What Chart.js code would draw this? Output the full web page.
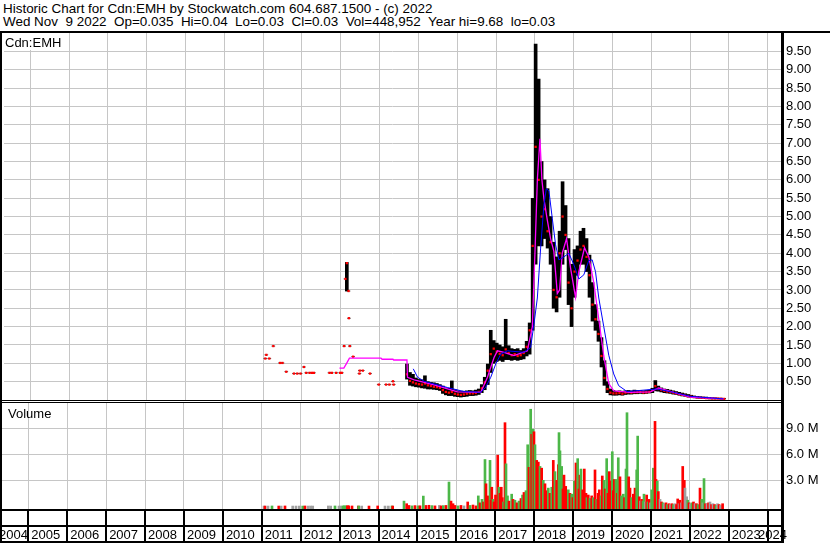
<!DOCTYPE html>
<html>
<head>
<meta charset="utf-8">
<script src="https://cdn.jsdelivr.net/npm/chart.js@4.4.1/dist/chart.umd.min.js"></script>
<style>
  body { margin: 0; background: #fff; width: 830px; height: 543px; overflow: hidden; position: relative; font-family: "Liberation Sans", Arial, sans-serif; }
  .t { position: absolute; left: 3px; font-size: 13.45px; line-height: 13px; white-space: pre; color: #000; }
  canvas { position: absolute; left: 0; }
</style>
</head>
<body>
<div class="t" style="top:2px">Historic Chart for Cdn:EMH by Stockwatch.com 604.687.1500 - (c) 2022</div>
<div class="t" style="top:15px">Wed Nov  9 2022  Op=0.035  Hi=0.04  Lo=0.03  Cl=0.03  Vol=448,952  Year hi=9.68  lo=0.03</div>
<canvas id="price" width="830" height="376" style="top:28px"></canvas>
<canvas id="vol" width="830" height="143" style="top:400px"></canvas>
<script>
// axis ticks
const yearTicks = [2004, 2005, 2006, 2007, 2008, 2009, 2010, 2011, 2012, 2013, 2014, 2015, 2016, 2017, 2018, 2019, 2020, 2021, 2022, 2023, 2024];
const yearLabels = ['2004', '2005', '2006', '2007', '2008', '2009', '2010', '2011', '2012', '2013', '2014', '2015', '2016', '2017', '2018', '2019', '2020', '2021', '2022', '2023', '2024'];
const priceTicks = [0.5, 1, 1.5, 2, 2.5, 3, 3.5, 4, 4.5, 5, 5.5, 6, 6.5, 7, 7.5, 8, 8.5, 9, 9.5];
const volTicks = [3, 6, 9]; // millions

// daily-ish price bars (decimal year, high, low, close)
const priceDates = [
  2011.056, 2011.082, 2011.159, 2011.262, 2011.435, 2011.497, 2011.596, 2011.794, 2011.879, 2011.964,
  2012.051, 2012.110, 2012.196, 2012.257, 2012.308, 2012.709, 2012.770, 2012.881, 2012.984, 2013.027,
  2013.086, 2013.120, 2013.156, 2013.200, 2013.210, 2013.233, 2013.318, 2013.480, 2013.490, 2013.567,
  2013.754, 2013.978, 2014.166, 2014.252, 2014.345, 2014.363,
  2014.705, 2014.782, 2014.859, 2014.936, 2015.013, 2015.091, 2015.168, 2015.245, 2015.322, 2015.399,
  2015.476, 2015.553, 2015.630, 2015.707, 2015.784, 2015.861, 2015.939, 2016.016, 2016.093, 2016.170,
  2016.247, 2016.324, 2016.401, 2016.478, 2016.555, 2016.632, 2016.709, 2016.787, 2016.864, 2016.941,
  2017.018, 2017.095, 2017.172, 2017.249, 2017.326, 2017.403, 2017.480, 2017.557, 2017.635, 2017.712,
  2017.789, 2017.866, 2017.943, 2018.020, 2018.097, 2018.174, 2018.251, 2018.328, 2018.405, 2018.483,
  2018.560, 2018.637, 2018.714, 2018.791, 2018.868, 2018.945, 2019.022, 2019.099, 2019.176, 2019.253,
  2019.331, 2019.408, 2019.485, 2019.562, 2019.639, 2019.716, 2019.793, 2019.870, 2019.947, 2020.024,
  2020.101, 2020.179, 2020.256, 2020.333, 2020.410, 2020.487, 2020.564, 2020.641, 2020.718, 2020.795,
  2020.872, 2020.949, 2021.027, 2021.104, 2021.181, 2021.258, 2021.335, 2021.412, 2021.489, 2021.566,
  2021.643, 2021.720, 2021.797, 2021.875, 2021.952, 2022.029, 2022.106, 2022.183, 2022.260, 2022.337,
  2022.414, 2022.491, 2022.568, 2022.645, 2022.723, 2022.800, 2022.877
];
const priceHigh = [
  1.13, 1.23, 1.13, 1.47, 1.01, 1.01, 0.77, 0.72, 0.72, 0.72,
  0.90, 0.74, 0.74, 0.74, 0.74, 0.74, 0.74, 0.74, 0.74, 0.74,
  1.47, 3.30, 3.75, 2.97, 2.23, 1.47, 1.18, 0.72, 0.80, 0.80,
  0.72, 0.42, 0.42, 0.42, 0.51, 0.42,
  0.98, 0.75, 0.70, 0.60, 0.56, 0.55, 0.66, 0.50, 0.48, 0.47,
  0.45, 0.42, 0.38, 0.33, 0.32, 0.52, 0.28, 0.25, 0.24, 0.24,
  0.25, 0.26, 0.25, 0.27, 0.30, 0.42, 0.62, 0.98, 1.90, 1.62,
  1.55, 1.50, 1.45, 2.20, 1.48, 1.40, 1.38, 1.40, 1.35, 1.40,
  1.60, 2.10, 5.50, 9.70, 8.75, 6.50, 6.00, 5.76, 5.00, 4.30,
  3.90, 4.60, 5.95, 5.30, 4.40, 3.70, 4.10, 4.20, 4.60, 4.68,
  4.40, 3.95, 3.20, 2.60, 2.15, 1.70, 1.07, 0.50, 0.30, 0.26,
  0.24, 0.25, 0.24, 0.25, 0.26, 0.25, 0.27, 0.26, 0.26, 0.25,
  0.26, 0.27, 0.32, 0.53, 0.38, 0.33, 0.30, 0.29, 0.27, 0.25,
  0.23, 0.21, 0.19, 0.17, 0.15, 0.13, 0.11, 0.10, 0.09, 0.08,
  0.08, 0.07, 0.06, 0.06, 0.05, 0.05, 0.04
];
const priceLow = [
  1.13, 1.23, 1.13, 1.47, 1.01, 1.01, 0.77, 0.72, 0.72, 0.72,
  0.90, 0.74, 0.74, 0.74, 0.74, 0.74, 0.74, 0.74, 0.74, 0.74,
  1.47, 3.30, 2.97, 2.97, 2.23, 1.47, 1.18, 0.72, 0.80, 0.80,
  0.72, 0.42, 0.42, 0.42, 0.51, 0.42,
  0.57, 0.40, 0.38, 0.36, 0.35, 0.33, 0.32, 0.30, 0.30, 0.29,
  0.28, 0.26, 0.18, 0.14, 0.12, 0.12, 0.10, 0.09, 0.08, 0.09,
  0.10, 0.12, 0.12, 0.13, 0.15, 0.20, 0.28, 0.42, 0.75, 1.00,
  1.05, 1.08, 1.05, 1.10, 1.10, 1.08, 1.10, 1.08, 1.10, 1.12,
  1.20, 1.25, 1.90, 3.70, 4.20, 4.20, 4.40, 4.14, 3.70, 2.50,
  2.40, 2.80, 3.70, 4.10, 2.60, 2.00, 2.80, 3.40, 3.70, 3.70,
  3.50, 2.80, 2.15, 1.90, 1.60, 0.90, 0.40, 0.20, 0.14, 0.13,
  0.13, 0.14, 0.13, 0.15, 0.16, 0.16, 0.17, 0.17, 0.18, 0.17,
  0.18, 0.19, 0.20, 0.25, 0.24, 0.22, 0.20, 0.19, 0.18, 0.16,
  0.15, 0.13, 0.11, 0.10, 0.08, 0.07, 0.06, 0.05, 0.05, 0.04,
  0.04, 0.03, 0.03, 0.03, 0.03, 0.02, 0.03
];
const priceClose = [
  1.13, 1.23, 1.13, 1.47, 1.01, 1.01, 0.77, 0.72, 0.72, 0.72,
  0.90, 0.74, 0.74, 0.74, 0.74, 0.74, 0.74, 0.74, 0.74, 0.74,
  1.47, 3.30, 3.73, 2.97, 2.23, 1.47, 1.18, 0.72, 0.80, 0.80,
  0.72, 0.42, 0.42, 0.42, 0.51, 0.42,
  0.70, 0.52, 0.48, 0.45, 0.43, 0.42, 0.45, 0.40, 0.38, 0.36,
  0.35, 0.33, 0.27, 0.22, 0.20, 0.22, 0.17, 0.15, 0.14, 0.15,
  0.17, 0.18, 0.18, 0.19, 0.22, 0.32, 0.48, 0.80, 1.25, 1.40,
  1.32, 1.26, 1.22, 1.38, 1.28, 1.22, 1.25, 1.20, 1.22, 1.28,
  1.45, 1.90, 4.20, 6.90, 6.00, 5.00, 5.20, 4.60, 4.30, 3.00,
  2.80, 4.00, 5.00, 4.50, 3.20, 2.50, 3.50, 3.80, 4.10, 4.20,
  3.90, 3.40, 2.60, 2.20, 1.80, 1.20, 0.60, 0.30, 0.20, 0.18,
  0.18, 0.19, 0.17, 0.20, 0.21, 0.20, 0.21, 0.21, 0.22, 0.20,
  0.21, 0.22, 0.27, 0.38, 0.30, 0.27, 0.25, 0.23, 0.22, 0.20,
  0.18, 0.16, 0.14, 0.12, 0.10, 0.09, 0.08, 0.07, 0.06, 0.06,
  0.05, 0.05, 0.04, 0.04, 0.04, 0.035, 0.03
];

// moving averages as drawn
const fastMaDates = [2012.966, 2013.079, 2013.150, 2013.223, 2014.037, 2014.063, 2014.345, 2014.363, 2014.705, 2014.718,
  2014.893, 2015.150, 2015.450, 2015.751, 2016.008, 2016.607, 2016.779, 2016.949, 2017.036, 2017.205,
  2017.462, 2017.807, 2017.935, 2018.002, 2018.064, 2018.131, 2018.182, 2018.233, 2018.321, 2018.405,
  2018.490, 2018.578, 2018.637, 2018.706, 2018.817, 2018.919, 2019.048, 2019.133, 2019.279, 2019.390,
  2019.518, 2019.647, 2019.775, 2019.904, 2020.032, 2020.461, 2020.975, 2021.189, 2021.574, 2022.003, 2022.859];
const fastMa = [0.87, 0.87, 1.00, 1.14, 1.14, 1.11, 1.11, 1.09, 1.09, 0.62,
  0.55, 0.48, 0.40, 0.30, 0.22, 0.21, 0.62, 1.16, 1.34, 1.30,
  1.21, 1.34, 2.00, 4.00, 6.00, 7.12, 6.00, 5.49, 4.90, 4.40,
  4.05, 2.90, 3.00, 4.00, 4.40, 3.60, 2.80, 3.50, 4.15, 3.90,
  3.20, 2.20, 1.20, 0.45, 0.25, 0.21, 0.22, 0.33, 0.21, 0.08, 0.03];
const slowMaDates = [2014.867, 2014.980, 2015.150, 2015.751, 2016.178, 2016.607, 2016.735, 2016.864, 2016.992, 2017.121,
  2017.293, 2017.719, 2017.891, 2017.976, 2018.064, 2018.149, 2018.233, 2018.295, 2018.362, 2018.449,
  2018.534, 2018.619, 2018.747, 2018.876, 2019.004, 2019.133, 2019.261, 2019.389, 2019.477, 2019.562,
  2019.647, 2019.775, 2019.904, 2020.032, 2020.160, 2020.376, 2021.147, 2021.574, 2022.003, 2022.859];
const slowMa = [0.85, 0.62, 0.51, 0.34, 0.23, 0.21, 0.35, 0.62, 0.98, 1.25,
  1.34, 1.30, 1.43, 2.06, 2.78, 4.14, 5.31, 5.76, 5.70, 4.95,
  4.23, 3.82, 3.90, 4.00, 3.69, 3.30, 3.41, 3.80, 3.82, 3.50,
  2.78, 2.00, 1.22, 0.71, 0.39, 0.23, 0.30, 0.21, 0.10, 0.03];

// volume in millions, u = up (green), d = down (red), f = unchanged (grey)
const volDates = [
  2011.056, 2011.082, 2011.159, 2011.262, 2011.435, 2011.497, 2011.596, 2011.794, 2011.879, 2011.964,
  2012.051, 2012.110, 2012.196, 2012.257, 2012.308, 2012.709, 2012.770, 2012.881, 2012.984, 2013.027,
  2013.086, 2013.120, 2013.156, 2013.200, 2013.210, 2013.233, 2013.318, 2013.480, 2013.490, 2013.567,
  2013.754, 2013.978, 2014.166, 2014.252, 2014.345, 2014.363,
  2014.654, 2014.723, 2014.782, 2014.859, 2014.936, 2015.014, 2015.065, 2015.150, 2015.219, 2015.296,
  2015.373, 2015.450, 2015.561, 2015.605, 2015.664, 2015.733, 2015.810, 2015.862, 2015.913, 2015.964,
  2016.041, 2016.118, 2016.196, 2016.291, 2016.350, 2016.427, 2016.504, 2016.563, 2016.607, 2016.658,
  2016.697, 2016.735, 2016.761, 2016.812, 2016.864, 2016.889, 2016.910, 2016.941, 2016.967, 2017.005,
  2017.062, 2017.095, 2017.121, 2017.154, 2017.180, 2017.211, 2017.249, 2017.275, 2017.313, 2017.352,
  2017.421, 2017.455, 2017.506, 2017.557, 2017.609, 2017.660, 2017.699, 2017.737, 2017.788, 2017.832,
  2017.866, 2017.909, 2017.935, 2017.969, 2017.994, 2018.020, 2018.064, 2018.105, 2018.149, 2018.192,
  2018.233, 2018.277, 2018.315, 2018.362, 2018.405, 2018.449, 2018.490, 2018.534, 2018.578, 2018.619,
  2018.637, 2018.662, 2018.706, 2018.739, 2018.765, 2018.809, 2018.842, 2018.876, 2018.919, 2018.963,
  2018.996, 2019.030, 2019.073, 2019.117, 2019.150, 2019.176, 2019.202, 2019.245, 2019.287, 2019.330,
  2019.356, 2019.389, 2019.433, 2019.477, 2019.518, 2019.562, 2019.605, 2019.639, 2019.672, 2019.716,
  2019.749, 2019.793, 2019.826, 2019.862, 2019.896, 2019.929, 2019.973, 2020.006, 2020.032, 2020.058,
  2020.101, 2020.135, 2020.160, 2020.204, 2020.243, 2020.289, 2020.320, 2020.358, 2020.384, 2020.428,
  2020.461, 2020.500, 2020.546, 2020.590, 2020.633, 2020.659, 2020.700, 2020.731, 2020.762, 2020.795,
  2020.821, 2020.859, 2020.890, 2020.924, 2020.957, 2020.988, 2021.019, 2021.060, 2021.104, 2021.130,
  2021.163, 2021.189, 2021.233, 2021.271, 2021.310, 2021.348, 2021.387, 2021.425, 2021.464, 2021.502,
  2021.541, 2021.579, 2021.618, 2021.656, 2021.687, 2021.721, 2021.746, 2021.785, 2021.816, 2021.857,
  2021.875, 2021.918, 2021.944, 2021.977, 2022.016, 2022.055, 2022.093, 2022.132, 2022.170, 2022.209,
  2022.260, 2022.304, 2022.337, 2022.363, 2022.401, 2022.440, 2022.479, 2022.517, 2022.556, 2022.594,
  2022.633, 2022.671, 2022.710, 2022.749, 2022.787, 2022.841
];
const volMillions = [
  0.03, 0.03, 0.03, 0.04, 0.03, 0.03, 0.04, 0.03, 0.03, 0.03,
  0.03, 0.04, 0.03, 0.03, 0.03, 0.04, 0.03, 0.04, 0.03, 0.03,
  0.05, 0.05, 0.06, 0.05, 0.04, 0.05, 0.04, 0.03, 0.03, 0.03,
  0.03, 0.04, 0.03, 0.03, 0.04, 0.03,
  0.6, 0.3, 0.1, 0.05, 0.08, 0.05, 0.06, 1.18, 0.1, 0.12,
  0.08, 0.05, 0.1, 0.05, 0.08, 0.1, 2.8, 0.6, 0.3, 0.1,
  0.05, 0.1, 0.05, 0.5, 0.1, 0.15, 0.05, 1.2, 0.4, 0.8,
  0.5, 5.4, 2.6, 1.2, 5.3, 0.7, 2.2, 0.8, 0.5, 1.3,
  5.9, 2.2, 1.5, 2.2, 1.0, 0.5, 9.65, 4.9, 1.2, 0.6,
  1.4, 0.8, 0.7, 0.4, 0.6, 0.9, 1.3, 1.6, 1.8, 7.1,
  4.5, 11.2, 8.3, 8.9, 8.6, 7.1, 5.3, 5.1, 4.6, 4.4,
  3.0, 2.6, 1.8, 2.1, 1.5, 2.2, 5.3, 4.0, 3.0, 4.8,
  8.5, 6.4, 4.6, 2.0, 3.6, 2.3, 1.2, 1.9, 1.5, 1.4,
  1.0, 2.9, 5.0, 5.5, 2.0, 3.6, 4.3, 1.9, 4.3, 1.5,
  1.0, 1.3, 0.9, 1.2, 1.0, 4.2, 0.8, 1.5, 1.9, 1.2,
  3.5, 3.0, 2.0, 5.5, 1.5, 4.0, 2.9, 6.3, 1.8, 3.1,
  3.1, 1.5, 5.6, 3.4, 1.2, 1.4, 1.0, 4.3, 10.8, 3.4,
  2.1, 1.0, 1.4, 2.1, 4.2, 8.1, 1.1, 0.6, 0.8, 0.6,
  1.4, 0.5, 1.3, 0.5, 0.8, 0.4, 1.9, 4.4, 9.8, 3.1,
  2.9, 1.7, 0.8, 0.5, 0.4, 0.3, 0.4, 0.2, 0.3, 0.2,
  0.3, 0.2, 0.3, 0.2, 0.85, 0.3, 0.7, 0.4, 4.6, 3.0,
  2.1, 1.1, 0.7, 0.4, 0.3, 0.4, 0.5, 0.3, 0.3, 0.2,
  2.1, 0.8, 0.4, 3.2, 0.3, 0.3, 0.4, 0.5, 0.2, 0.3,
  0.2, 0.1, 0.3, 0.2, 0.1, 0.3
];
const volDir = [
  'f', 'd', 'f', 'u', 'd', 'f', 'd', 'f', 'f', 'f',
  'u', 'd', 'f', 'f', 'f', 'f', 'f', 'u', 'f', 'f',
  'u', 'u', 'u', 'd', 'd', 'd', 'd', 'd', 'u', 'f',
  'd', 'd', 'f', 'f', 'u', 'd',
  'u', 'd', 'd', 'u', 'd', 'u', 'd', 'u', 'd', 'd',
  'u', 'd', 'f', 'd', 'u', 'd', 'u', 'd', 'd', 'd',
  'u', 'd', 'f', 'd', 'u', 'd', 'd', 'u', 'd', 'u',
  'd', 'u', 'd', 'd', 'u', 'd', 'd', 'u', 'd', 'd',
  'd', 'u', 'd', 'd', 'd', 'u', 'd', 'u', 'u', 'd',
  'u', 'd', 'u', 'd', 'u', 'd', 'u', 'd', 'u', 'u',
  'd', 'u', 'd', 'u', 'd', 'u', 'd', 'd', 'u', 'd',
  'u', 'd', 'd', 'u', 'd', 'u', 'd', 'u', 'd', 'd',
  'u', 'u', 'u', 'd', 'd', 'd', 'd', 'u', 'd', 'u',
  'd', 'u', 'd', 'u', 'd', 'd', 'u', 'd', 'd', 'd',
  'u', 'd', 'u', 'd', 'u', 'd', 'u', 'd', 'd', 'u',
  'd', 'u', 'd', 'u', 'd', 'd', 'd', 'u', 'd', 'd',
  'u', 'd', 'u', 'd', 'u', 'u', 'd', 'u', 'u', 'd',
  'd', 'u', 'd', 'd', 'u', 'u', 'd', 'f', 'd', 'u',
  'u', 'f', 'd', 'u', 'd', 'f', 'u', 'u', 'd', 'd',
  'u', 'd', 'f', 'd', 'u', 'f', 'd', 'u', 'd', 'f',
  'd', 'u', 'f', 'd', 'd', 'f', 'd', 'f', 'd', 'd',
  'f', 'f', 'u', 'd', 'f', 'u', 'd', 'f', 'd', 'u',
  'd', 'u', 'f', 'u', 'd', 'f', 'd', 'f', 'd', 'f',
  'd', 'u', 'f', 'd', 'f', 'd'
];

Chart.defaults.font.family = '"Liberation Sans", Arial, sans-serif';
Chart.defaults.font.size = 13;
Chart.defaults.color = '#000';

const xMin = 2004.324, xMax = 2024.367;
const volMin = -0.31, volMax = 11.92;
const gridColor = '#c6c6c6';
const dirColors = { u: '#4cb748', d: '#ff0000', f: '#a0a0a0' };

const yearGrid = s => { s.ticks = yearTicks.filter(v => v > xMin && v < xMax).map(v => ({ value: v })); };
// keep the plot area edge-to-edge: no label overhang padding
const fixedWidth = s => { s.width = 48; s.paddingTop = 0; s.paddingBottom = 0; };
const flatAxis = s => { s.height = 0; s.paddingLeft = 0; s.paddingRight = 0; };

// frame, panel label and separator lines of the price panel
const priceFrame = {
  id: 'priceFrame',
  afterDraw(chart) {
    const ctx = chart.ctx, a = chart.chartArea;
    ctx.save();
    ctx.fillStyle = '#000';
    ctx.fillRect(0, a.top - 1, chart.width, 2);
    ctx.fillRect(0, a.top - 1, 2, chart.height);
    ctx.fillRect(0, a.bottom, a.right, 1);
    ctx.fillRect(0, a.bottom + 2, a.right, 1);
    ctx.fillStyle = '#fff';
    ctx.fillRect(2, a.top + 1, 63, 17);
    ctx.fillStyle = '#000';
    ctx.font = '13px "Liberation Sans", Arial, sans-serif';
    ctx.textBaseline = 'alphabetic';
    ctx.fillText('Cdn:EMH', 5, a.top + 15);
    ctx.restore();
  }
};

// year strip below the volume panel
const yearStrip = {
  id: 'yearStrip',
  afterDraw(chart) {
    const ctx = chart.ctx, a = chart.chartArea, xs = chart.scales.x;
    const rowTop = a.bottom, midLine = a.bottom + 16, baseLine = a.bottom + 32;
    ctx.save();
    ctx.fillStyle = '#000';
    ctx.fillRect(0, 0, 2, chart.height);
    ctx.fillRect(a.right - 1, 0, 3, chart.height);
    ctx.fillRect(0, rowTop, a.right, 2);
    ctx.fillRect(0, midLine, a.right, 2);
    ctx.fillRect(0, baseLine, a.right, 2);
    ctx.font = '13px "Liberation Sans", Arial, sans-serif';
    yearTicks.forEach((y, i) => {
      const px = xs.getPixelForValue(y);
      if (px > 2 && px < a.right - 2) ctx.fillRect(Math.round(px) - 1, rowTop, 2, baseLine - rowTop);
      const w = ctx.measureText(yearLabels[i]).width;
      const tx = Math.max(-1, Math.min(px + 3, a.right + 5 - w));
      ctx.fillText(yearLabels[i], tx, baseLine - 2);
    });
    ctx.fillText('Volume', 8, a.top + 15);
    ctx.restore();
  }
};

new Chart(document.getElementById('price'), {
  type: 'bar',
  data: {
    datasets: [
      { type: 'line', data: slowMaDates.map((d, i) => ({ x: d, y: slowMa[i] })), borderColor: '#0000ff', borderWidth: 1, pointRadius: 0, tension: 0, order: 0 },
      { type: 'line', data: fastMaDates.map((d, i) => ({ x: d, y: fastMa[i] })), borderColor: '#ff00ff', borderWidth: 1.3, pointRadius: 0, tension: 0, order: 1 },
      { type: 'line', showLine: false, data: priceDates.map((d, i) => ({ x: d, y: priceClose[i] })), pointStyle: 'rect', pointRadius: 1.6, pointBackgroundColor: '#ff0000', pointBorderWidth: 0, order: 2 },
      { type: 'bar', data: priceDates.map((d, i) => ({ x: d, y: [priceLow[i], priceHigh[i]] })), backgroundColor: '#000', barThickness: 3, order: 3 }
    ]
  },
  options: {
    responsive: false, animation: false, events: [],
    layout: { padding: { left: 2, top: 2, right: 0, bottom: 4 } },
    plugins: { legend: { display: false }, tooltip: { enabled: false } },
    scales: {
      x: {
        type: 'linear', min: xMin, max: xMax, offset: false,
        grid: { color: gridColor, drawTicks: false, offset: false }, border: { display: false },
        ticks: { display: false }, afterBuildTicks: yearGrid, afterFit: flatAxis
      },
      y: {
        position: 'right', min: 0, max: 10.03,
        grid: { color: gridColor, drawTicks: false }, border: { color: '#000', width: 3 },
        ticks: { padding: 4, callback: v => v.toFixed(2) },
        afterBuildTicks: s => { s.ticks = priceTicks.map(v => ({ value: v })); },
        afterFit: fixedWidth
      }
    }
  },
  plugins: [priceFrame]
});

new Chart(document.getElementById('vol'), {
  type: 'bar',
  data: {
    datasets: [{
      data: volDates.map((d, i) => ({ x: d, y: volMillions[i] })),
      backgroundColor: volDir.map(k => dirColors[k]),
      barThickness: 2, base: volMin
    }]
  },
  options: {
    responsive: false, animation: false, events: [],
    layout: { padding: { left: 2, top: 3, right: 0, bottom: 34 } },
    plugins: { legend: { display: false }, tooltip: { enabled: false } },
    scales: {
      x: {
        type: 'linear', min: xMin, max: xMax, offset: false,
        grid: { color: gridColor, drawTicks: false, offset: false }, border: { display: false },
        ticks: { display: false }, afterBuildTicks: yearGrid, afterFit: flatAxis
      },
      y: {
        position: 'right', min: volMin, max: volMax,
        grid: { color: gridColor, drawTicks: false }, border: { color: '#000', width: 3 },
        ticks: { padding: 4, callback: v => v.toFixed(1) + ' M' },
        afterBuildTicks: s => { s.ticks = volTicks.map(v => ({ value: v })); },
        afterFit: fixedWidth
      }
    }
  },
  plugins: [yearStrip]
});
</script>
</body>
</html>
